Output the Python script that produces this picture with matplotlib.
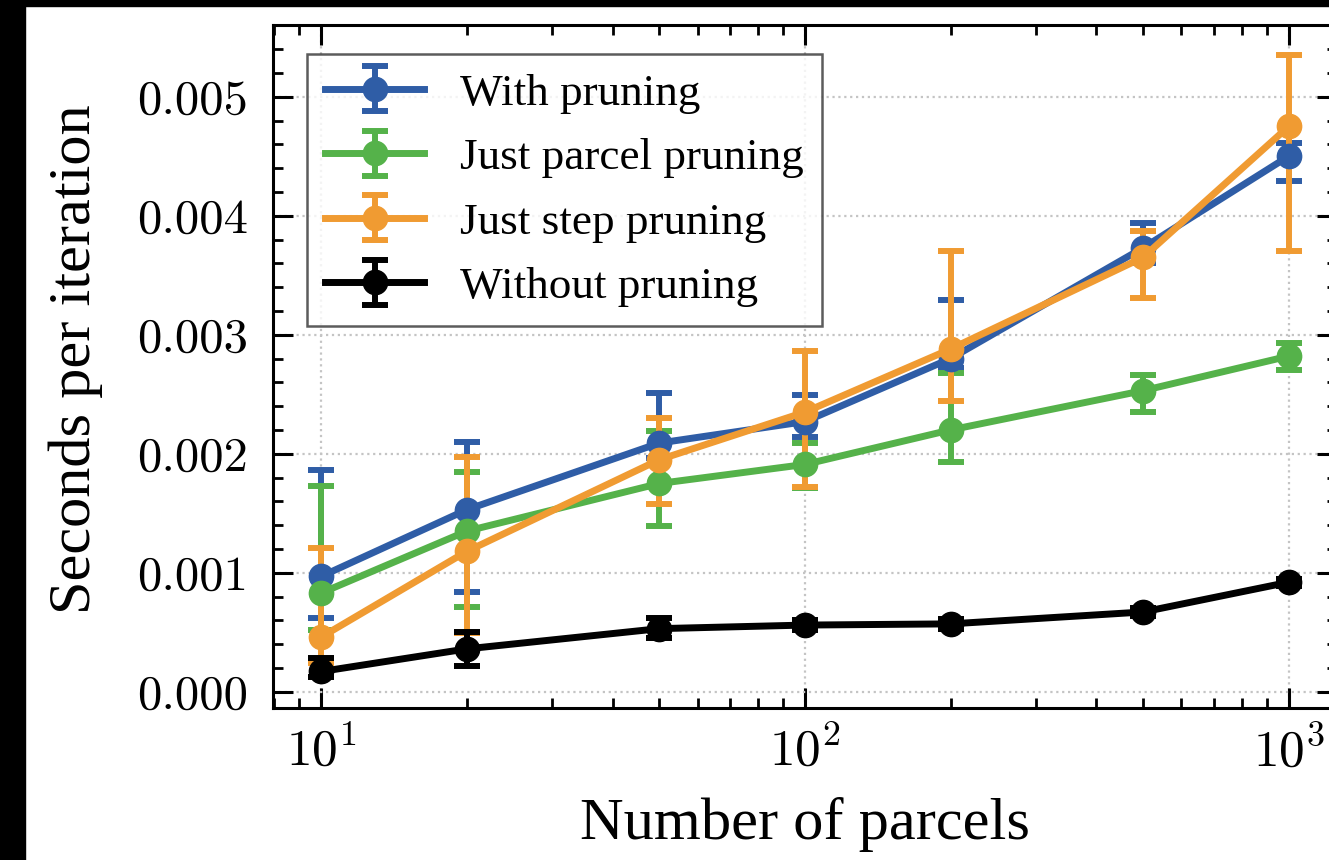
import numpy as np
import matplotlib
matplotlib.use("Agg")
import matplotlib.pyplot as plt
from matplotlib.ticker import MultipleLocator, AutoMinorLocator, FormatStrFormatter
from matplotlib.patches import Rectangle

# Computer Modern numbers, Times-like words (like LaTeX with the times package)
plt.rcParams['font.family'] = ['cmr10', 'DejaVu Serif']
plt.rcParams['mathtext.fontset'] = 'cm'
plt.rcParams['axes.unicode_minus'] = False
plt.rcParams['axes.formatter.use_mathtext'] = True
text_font = ['Liberation Serif', 'DejaVu Serif']

# Number of parcels
n_parcels = [10, 20, 50, 100, 200, 500, 1000]

# With pruning
with_mean = [0.00097, 0.00153, 0.00209, 0.00227, 0.00280, 0.00373, 0.00450]
with_low = [0.00062, 0.00084, 0.00196, 0.00214, 0.00272, 0.00360, 0.00429]
with_high = [0.00186, 0.00210, 0.00251, 0.00249, 0.00329, 0.00394, 0.00461]

# Just parcel pruning
parcel_mean = [0.00083, 0.00135, 0.00175, 0.00191, 0.00220, 0.00253, 0.00282]
parcel_low = [0.00052, 0.00071, 0.00139, 0.00171, 0.00193, 0.00235, 0.00270]
parcel_high = [0.00173, 0.00185, 0.00219, 0.00209, 0.00268, 0.00266, 0.00293]

# Just step pruning
step_mean = [0.00046, 0.00118, 0.00195, 0.00235, 0.00288, 0.00365, 0.00475]
step_low = [0.00024, 0.00049, 0.00158, 0.00172, 0.00244, 0.00331, 0.00370]
step_high = [0.00121, 0.00197, 0.00230, 0.00286, 0.00370, 0.00387, 0.00535]

# Without pruning
without_mean = [0.00017, 0.00036, 0.00053, 0.00056, 0.00057, 0.00067, 0.00092]
without_low = [0.00012, 0.00022, 0.00045, 0.00052, 0.00053, 0.00064, 0.00089]
without_high = [0.00028, 0.00050, 0.00062, 0.00060, 0.00061, 0.00070, 0.00095]

labels = ["With pruning", "Just parcel pruning", "Just step pruning", "Without pruning"]
colors = ["#2F5DA6", "#55B24A", "#F09B32", "#000000"]

fig = plt.figure(figsize=(13.29, 8.60), dpi=100)
fig.patch.set_facecolor("white")
# black screenshot borders
fig.patches.append(Rectangle((0, 1 - 5.5 / 860), 1, 5.5 / 860, transform=fig.transFigure,
                             color="black", zorder=10))
fig.patches.append(Rectangle((0, 0), 25 / 1329, 1, transform=fig.transFigure,
                             color="black", zorder=10))

ax = fig.add_axes([273 / 1329, 1 - 708 / 860, 1064 / 1329, 683 / 860])

series = [
    (with_mean, with_low, with_high),
    (parcel_mean, parcel_low, parcel_high),
    (step_mean, step_low, step_high),
    (without_mean, without_low, without_high),
]
for (m, lo, hi), lab, c in zip(series, labels, colors):
    m = np.array(m)
    yerr = [m - np.array(lo), np.array(hi) - m]
    ax.errorbar(n_parcels, m, yerr=yerr, color=c, label=lab, marker="o",
                markersize=17.5, linewidth=5.0, elinewidth=4.3, capsize=9.7,
                capthick=4.3, zorder=3)

ax.set_xscale("log")
ax.set_xlim(10 ** 0.9, 10 ** 3.1)
ax.set_ylim(-0.000137, 0.005603)
ax.yaxis.set_major_locator(MultipleLocator(0.001))
ax.yaxis.set_minor_locator(AutoMinorLocator(5))
ax.yaxis.set_major_formatter(FormatStrFormatter("%.3f"))

ax.grid(True, which="major", linestyle=":", color="#c4c4c4", linewidth=1.6, zorder=0)
ax.set_axisbelow(True)

for s in ax.spines.values():
    s.set_linewidth(2.2)
ax.tick_params(which="both", direction="in", top=True, right=True)
ax.tick_params(which="major", length=14.4, width=2.2, labelsize=35)
ax.tick_params(which="minor", length=7.2, width=2.0)
ax.tick_params(axis="y", which="major", pad=18)
ax.tick_params(axis="x", which="major", pad=13, labelsize=37)

ax.set_xlabel("Number of parcels", fontsize=43.5, family=text_font)
ax.set_ylabel("Seconds per iteration", fontsize=43.5, family=text_font)
ax.xaxis.set_label_coords(0.5, -0.13)
ax.yaxis.set_label_coords(-0.16, 0.51)

leg = ax.legend(loc="upper left", bbox_to_anchor=(0.0315, 0.9575), borderaxespad=0,
                prop={"family": text_font, "size": 32.5}, fancybox=False,
                edgecolor="#333333", framealpha=0.8, handlelength=2.18,
                handletextpad=0.79, labelspacing=0.53, borderpad=0.42)
leg.get_frame().set_linewidth(1.8)

plt.savefig("out.png", dpi=100)
